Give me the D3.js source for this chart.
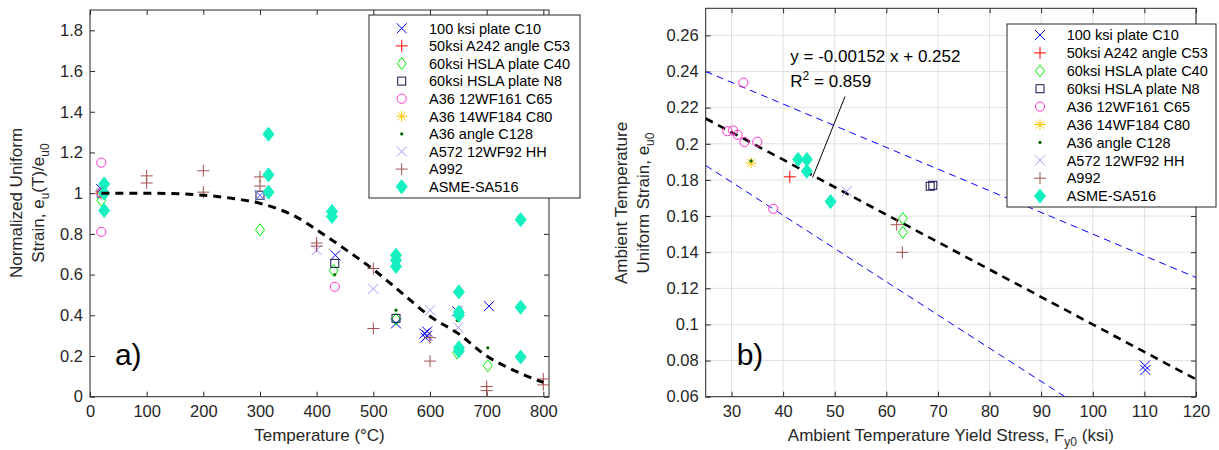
<!DOCTYPE html>
<html>
<head>
<meta charset="utf-8">
<script src="https://cdn.jsdelivr.net/npm/d3@7"></script>
<style>
body { margin: 0; background: #fff; }
text { font-family: "Liberation Sans", Arial, Helvetica, sans-serif; }
</style>
</head>
<body>
<svg id="chart"></svg>
<script>
// legend labels (same order in both panels)
var seriesNames = ["100 ksi plate C10", "50ksi A242 angle C53", "60ksi HSLA plate C40",
    "60ksi HSLA plate N8", "A36 12WF161 C65", "A36 14WF184 C80", "A36 angle C128",
    "A572 12WF92 HH", "A992", "ASME-SA516"];

// panel a) temperature (C) vs normalized uniform strain
var aC10 = [[20, 1.02], [300, 0.99], [433, 0.695], [540, 0.36], [590, 0.31], [592, 0.29], [595, 0.30], [595, 0.32], [648, 0.42], [704, 0.445]];
var aC53 = [[20, 1.0]];
var aC40 = [[20, 0.965], [300, 0.82], [430, 0.62], [540, 0.38], [648, 0.215], [702, 0.152]];
var aN8 = [[20, 1.0], [300, 0.99], [432, 0.655], [540, 0.385]];
var aC65 = [[20, 1.15], [20, 1.0], [20, 0.81], [432, 0.54]];
var aC80 = [[20, 1.0]];
var aC128 = [[20, 1.0], [432, 0.60], [540, 0.425], [648, 0.375], [702, 0.24]];
var aA572 = [[20, 1.0], [300, 0.99], [400, 0.72], [500, 0.53], [600, 0.425], [650, 0.34]];
var aA992 = [[20, 1.01], [100, 1.085], [100, 1.05], [200, 1.11], [200, 1.005], [300, 1.08], [300, 1.035],
    [400, 0.755], [400, 0.74], [500, 0.63], [500, 0.335], [600, 0.29], [600, 0.175], [700, 0.05], [700, 0.03],
    [800, 0.087], [800, 0.058]];
var aSA516 = [[25, 1.045], [25, 1.0], [25, 0.915], [315, 1.29], [315, 1.09], [315, 1.005], [427, 0.91], [427, 0.885],
    [540, 0.695], [540, 0.67], [540, 0.64], [651, 0.515], [651, 0.415], [651, 0.40], [651, 0.24], [651, 0.225],
    [760, 0.87], [760, 0.44], [760, 0.195]];
// fitted curve read off panel a)
var fitTemp = [20, 100, 200, 250, 300, 366, 400, 450, 500, 550, 600, 650, 700, 750, 800];
var fitRatio = [1.0, 1.0, 0.99, 0.975, 0.95, 0.88, 0.82, 0.725, 0.625, 0.51, 0.395, 0.31, 0.2, 0.127, 0.07];

// panel b) yield stress (ksi) vs ambient uniform strain
var bC10 = [[110.1, 0.0772], [110.2, 0.0748]];
var bC53 = [[41.3, 0.1817]];
var bC40 = [[63.2, 0.1586], [63.2, 0.151]];
var bN8 = [[68.5, 0.1765], [69.0, 0.177]];
var bC65 = [[32.3, 0.2338], [29.2, 0.207], [30.3, 0.2074], [31.2, 0.205], [32.5, 0.201], [35.0, 0.2011], [38.1, 0.164]];
var bC80 = [[33.8, 0.1894]];
var bC128 = [[33.8, 0.1905]];
var bA572 = [[52.3, 0.1737]];
var bA992 = [[62.0, 0.1552], [63.1, 0.1399]];
var bSA516 = [[42.9, 0.1913], [44.6, 0.1913], [44.6, 0.1848], [49.2, 0.168]];
// regression line and bounds
var fitFy = [25, 120];
var fitEu = [0.214, 0.0696];
var upperFy = [25, 120];
var upperEu = [0.24, 0.126];
var lowerFy = [25, 94.6];
var lowerEu = [0.188, 0.06];
var leaderFy = [52.0, 45.7];
var leaderEu = [0.2262, 0.1813];

var ticksA_x = d3.range(0, 801, 100);
var ticksA_y = [0, 0.2, 0.4, 0.6, 0.8, 1, 1.2, 1.4, 1.6, 1.8];
var ticksB_x = d3.range(30, 121, 10);
var ticksB_y = [0.06, 0.08, 0.1, 0.12, 0.14, 0.16, 0.18, 0.2, 0.22, 0.24, 0.26];

// styles
var markers = ["x", "+", "d", "s", "o", "*", ".", "x", "+", "D"];
var colors = ["#0000ff", "#ff0000", "#00ee00", "#15154f", "#ff33cc", "#ffc400", "#006400", "#9a9aff", "#a0524f", "#14f0c0"];
var axisColor = "#262626";

var svg = d3.select("#chart").attr("width", 1219).attr("height", 450);
svg.append("rect").attr("width", 1219).attr("height", 450).attr("fill", "#fff");

function drawMarker(g, type, color) {
    if (type == "x") {
        g.append("path").attr("d", "M-5,-5L5,5M-5,5L5,-5").attr("stroke", color).attr("fill", "none");
    } else if (type == "+") {
        g.append("path").attr("d", "M-6,0H6M0,-6V6").attr("stroke", color).attr("fill", "none");
    } else if (type == "d") {
        g.append("path").attr("d", "M0,-6L4.5,0L0,6L-4.5,0Z").attr("stroke", color).attr("fill", "none");
    } else if (type == "s") {
        g.append("rect").attr("x", -4).attr("y", -4).attr("width", 8).attr("height", 8)
            .attr("stroke", color).attr("fill", "none");
    } else if (type == "o") {
        g.append("circle").attr("r", 4.6).attr("stroke", color).attr("fill", "none");
    } else if (type == "*") {
        g.append("path").attr("d", "M-5.5,0H5.5M0,-5.5V5.5M-4,-4L4,4M-4,4L4,-4").attr("stroke", color).attr("fill", "none");
    } else if (type == ".") {
        g.append("circle").attr("r", 1.6).attr("fill", color);
    } else if (type == "D") {
        g.append("path").attr("d", "M0,-7L5.5,0L0,7L-5.5,0Z").attr("stroke", color).attr("fill", color);
    }
}

function drawAxes(x, y, xt, yt, grid) {
    var r = x.range(), t = y.range();
    var g = svg.append("g");
    if (grid) {
        g.selectAll(".gx").data(xt).join("line")
            .attr("x1", d => x(d)).attr("x2", d => x(d)).attr("y1", t[0]).attr("y2", t[1])
            .attr("stroke", "#e0e0e0");
        g.selectAll(".gy").data(yt).join("line")
            .attr("y1", d => y(d)).attr("y2", d => y(d)).attr("x1", r[0]).attr("x2", r[1])
            .attr("stroke", "#e0e0e0");
    }
    var fmt = d3.format("~g");
    var ax = [
        [d3.axisBottom(x).tickValues(xt).tickFormat(fmt).tickPadding(9), `translate(0,${t[0]})`],
        [d3.axisTop(x).tickValues(xt).tickFormat(""), `translate(0,${t[1]})`],
        [d3.axisLeft(y).tickValues(yt).tickFormat(fmt).tickPadding(7), `translate(${r[0]},0)`],
        [d3.axisRight(y).tickValues(yt).tickFormat(""), `translate(${r[1]},0)`]
    ];
    ax.forEach(function (a) {
        var ag = svg.append("g").attr("transform", a[1])
            .call(a[0].tickSizeInner(-5).tickSizeOuter(0));
        ag.select(".domain").remove();
        ag.selectAll("line").attr("stroke", axisColor);
        ag.selectAll("text").attr("fill", axisColor).style("font-size", "16.5px")
            .style("font-family", "'Liberation Sans', Arial, sans-serif");
    });
    svg.append("rect").attr("x", r[0]).attr("y", t[1]).attr("width", r[1] - r[0]).attr("height", t[0] - t[1])
        .attr("fill", "none").attr("stroke", axisColor).attr("stroke-width", 1);
}

function drawSeries(layer, data, x, y) {
    data.forEach(function (pts, i) {
        layer.append("g").selectAll("g").data(pts).join("g")
            .attr("transform", d => `translate(${x(d[0])},${y(d[1])})`)
            .each(function () { drawMarker(d3.select(this), markers[i], colors[i]); });
    });
}

function drawLegend(left, top, w, h, rowTop, rowStep, markerX, textX) {
    var lg = svg.append("g");
    lg.append("rect").attr("x", left).attr("y", top).attr("width", w).attr("height", h)
        .attr("fill", "#fff").attr("stroke", axisColor);
    seriesNames.forEach(function (name, i) {
        var cy = rowTop + i * rowStep;
        drawMarker(lg.append("g").attr("transform", `translate(${markerX},${cy})`), markers[i], colors[i]);
        lg.append("text").attr("x", textX).attr("y", cy + 5.2).attr("font-size", 14.5).attr("fill", "#000").text(name);
    });
}

// ---------- panel a ----------
var xA = d3.scaleLinear().domain([0, 810]).range([90, 549]);
var yA = d3.scaleLinear().domain([0, 1.9]).range([396.7, 10]);
drawAxes(xA, yA, ticksA_x, ticksA_y, false);

drawSeries(svg.append("g"), [aC10, aC53, aC40, aN8, aC65, aC80, aC128, aA572, aA992, aSA516], xA, yA);

svg.append("path")
    .datum(d3.zip(fitTemp, fitRatio))
    .attr("d", d3.line().x(d => xA(d[0])).y(d => yA(d[1])).curve(d3.curveMonotoneX))
    .attr("fill", "none").attr("stroke", "#000").attr("stroke-width", 3).attr("stroke-dasharray", "8,6");

svg.append("text").attr("x", xA(44)).attr("y", yA(0.156)).attr("font-size", 30).attr("fill", "#000").text("a)");

svg.append("text").attr("x", (90 + 549) / 2).attr("y", 441).attr("text-anchor", "middle")
    .attr("font-size", 17).attr("fill", axisColor).text("Temperature (°C)");

var ylA = svg.append("g").attr("transform", "translate(22,203) rotate(-90)");
ylA.append("text").attr("text-anchor", "middle").attr("font-size", 17).attr("fill", axisColor).text("Normalized Uniform");
var t2 = ylA.append("text").attr("y", 22).attr("text-anchor", "middle").attr("font-size", 17).attr("fill", axisColor);
t2.append("tspan").text("Strain, e");
t2.append("tspan").attr("dy", 5).attr("font-size", 12).text("u");
t2.append("tspan").attr("dy", -5).text("(T)/e");
t2.append("tspan").attr("dy", 5).attr("font-size", 12).text("u0");

drawLegend(369, 15, 211, 183, 28.3, 17.6, 401.7, 429);

// ---------- panel b ----------
var xB = d3.scaleLinear().domain([25, 120]).range([705.7, 1196]);
var yB = d3.scaleLinear().domain([0.06, 0.275]).range([396.7, 8.3]);
drawAxes(xB, yB, ticksB_x, ticksB_y, true);

svg.append("clipPath").attr("id", "clipB").append("rect")
    .attr("x", 705.7).attr("y", 8.3).attr("width", 1196 - 705.7).attr("height", 396.7 - 8.3);
var bLayer = svg.append("g").attr("clip-path", "url(#clipB)");
var line = d3.line().x(d => xB(d[0])).y(d => yB(d[1]));

bLayer.append("path").datum(d3.zip(upperFy, upperEu)).attr("d", line)
    .attr("fill", "none").attr("stroke", "#0000ff").attr("stroke-dasharray", "7,5");
bLayer.append("path").datum(d3.zip(lowerFy, lowerEu)).attr("d", line)
    .attr("fill", "none").attr("stroke", "#0000ff").attr("stroke-dasharray", "7,5");
bLayer.append("path").datum(d3.zip(fitFy, fitEu)).attr("d", line)
    .attr("fill", "none").attr("stroke", "#000").attr("stroke-width", 2.6).attr("stroke-dasharray", "8,6");

drawSeries(svg.append("g"), [bC10, bC53, bC40, bN8, bC65, bC80, bC128, bA572, bA992, bSA516], xB, yB);

svg.append("path").datum(d3.zip(leaderFy, leaderEu)).attr("d", line)
    .attr("fill", "none").attr("stroke", "#000").attr("stroke-width", 1);

svg.append("text").attr("x", xB(41.4)).attr("y", yB(0.245)).attr("font-size", 17).attr("fill", "#000")
    .text("y = -0.00152 x + 0.252");
var r2 = svg.append("text").attr("x", xB(41.4)).attr("y", yB(0.2315)).attr("font-size", 17).attr("fill", "#000");
r2.append("tspan").text("R");
r2.append("tspan").attr("dy", -7).attr("font-size", 12).text("2");
r2.append("tspan").attr("dy", 7).text(" = 0.859");

svg.append("text").attr("x", xB(31)).attr("y", yB(0.0776)).attr("font-size", 30).attr("fill", "#000").text("b)");

var xlB = svg.append("text").attr("x", (705.7 + 1196) / 2).attr("y", 441).attr("text-anchor", "middle")
    .attr("font-size", 17).attr("fill", axisColor);
xlB.append("tspan").text("Ambient Temperature Yield Stress, F");
xlB.append("tspan").attr("dy", 5).attr("font-size", 12).text("y0");
xlB.append("tspan").attr("dy", -5).text(" (ksi)");

var ylB = svg.append("g").attr("transform", "translate(627,203) rotate(-90)");
ylB.append("text").attr("text-anchor", "middle").attr("font-size", 17).attr("fill", axisColor).text("Ambient Temperature");
var t3 = ylB.append("text").attr("y", 22).attr("text-anchor", "middle").attr("font-size", 17).attr("fill", axisColor);
t3.append("tspan").text("Uniform Strain, e");
t3.append("tspan").attr("dy", 5).attr("font-size", 12).text("u0");

drawLegend(1007, 24, 209, 183, 35, 17.9, 1040, 1066.7);
</script>
</body>
</html>
